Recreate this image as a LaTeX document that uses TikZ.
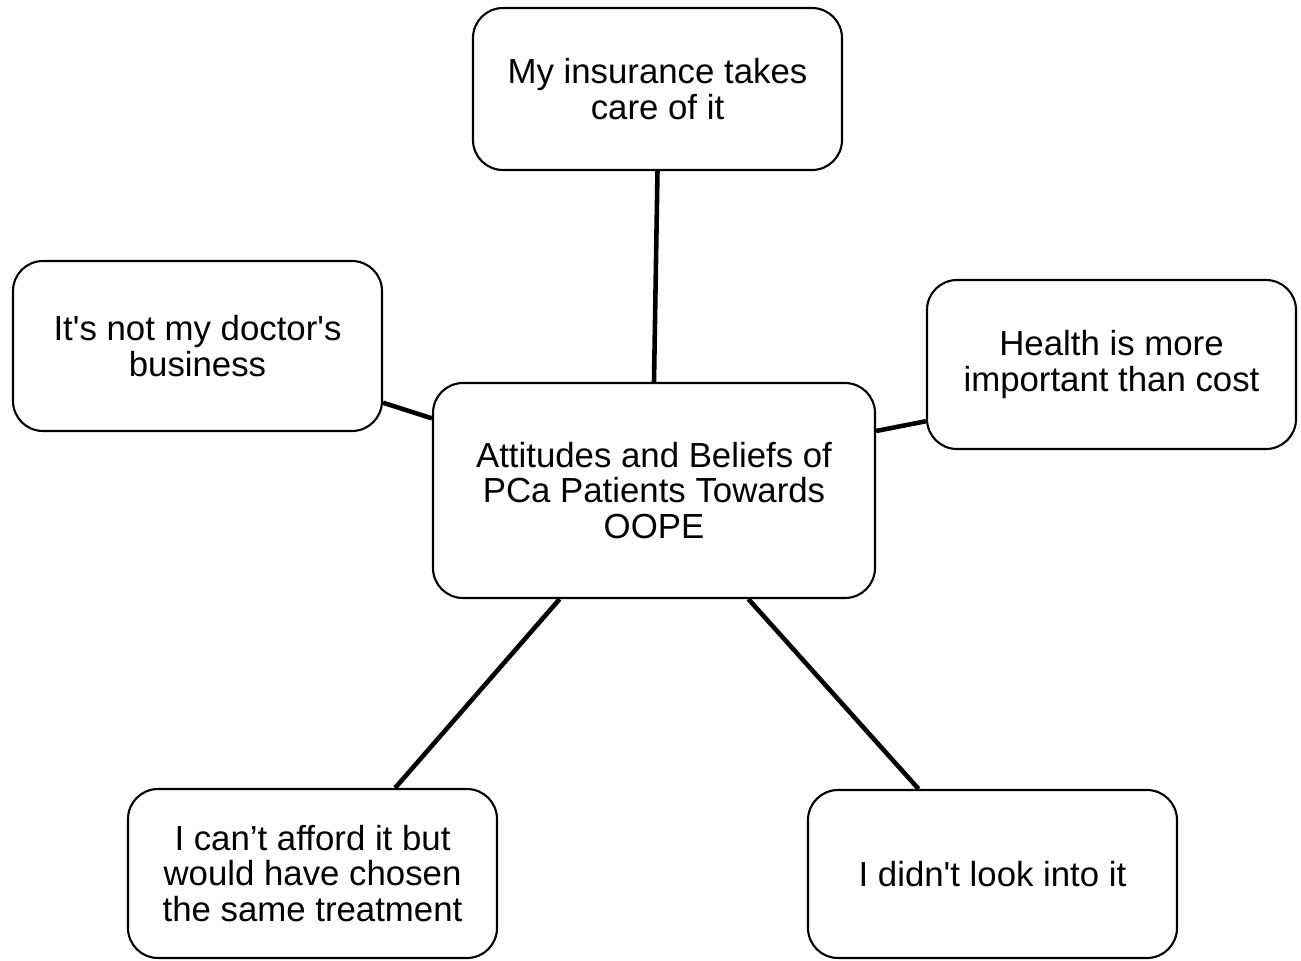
\documentclass[tikz,border=0pt]{standalone}
\usepackage{fontspec}
\newfontfamily\boxfont{Liberation Sans}
\usepackage{tikz}
\definecolor{inkline}{RGB}{0, 0, 0}

\begin{document}
\begin{tikzpicture}[
    theme/.style={draw=inkline, line width=0.6pt, rounded corners=0.3cm, fill=white,
                  align=center, inner sep=0pt, font=\boxfont\fontsize{9.9}{10.2}\selectfont,
                  minimum width=3.69cm, minimum height=1.69cm},
    spoke/.style={draw=inkline, line width=1.3pt}]
            \useasboundingbox                                          (0.00, 0.00) rectangle (13.01, 9.60);
            \node[theme, minimum height=1.62cm]            (insure)   at ( 6.575, 8.710) {My insurance takes\\care of it};
            \node[theme, minimum height=1.70cm]            (doctor)   at ( 1.975, 6.140) {It's not my doctor's\\business};
            \node[theme]                                   (health)   at (11.115, 5.955) {Health is more\\important than cost};
            \node[theme, minimum width=4.42cm, minimum height=2.15cm]
                                                           (core)     at ( 6.540, 4.695) {Attitudes and Beliefs of\\PCa Patients Towards\\OOPE};
            \node[theme]                                   (afford)   at ( 3.125, 0.865) {I can’t afford it but\\would have chosen\\the same treatment};
            \node[theme, minimum height=1.68cm]            (noinfo)   at ( 9.925, 0.860) {I didn't look into it};
            \draw[spoke] (insure.south)  -- (core.north);
            \draw[spoke] (doctor.-17.7)  -- (core.162.9);
            \draw[spoke] (health.-163.6) -- (core.15.2);
            \draw[spoke] (afford.46.4)   -- (core.-131.3);
            \draw[spoke] (noinfo.131.4)  -- (core.-49);
        \end{tikzpicture}
\end{document}
